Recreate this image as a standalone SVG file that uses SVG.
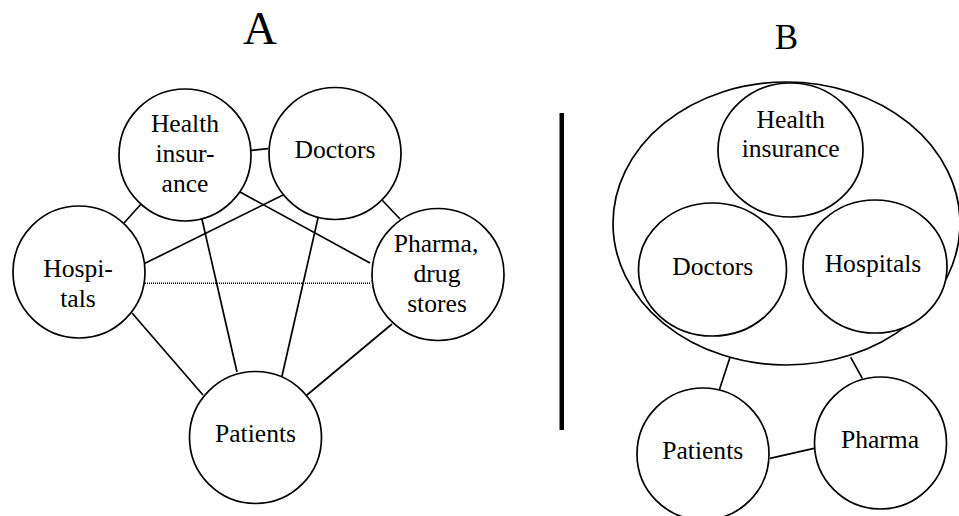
<svg xmlns="http://www.w3.org/2000/svg" width="959" height="516" viewBox="0 0 959 516">
<style>
.n{fill:#fff;stroke:#000;stroke-width:1.7}
.c line{stroke:#000;stroke-width:1.7}
text{font-family:'Liberation Serif','DejaVu Serif','Times New Roman',Times,serif;font-size:25.6px;fill:#000;text-anchor:middle}
</style>
<rect width="959" height="516" fill="#fff"/>
<text x="260" y="44" style="font-size:47px">A</text>
<text x="786.5" y="49" style="font-size:35px">B</text>
<rect x="559.5" y="113" width="4.5" height="317" fill="#000"/>
<g id="connectors" class="c">
<line x1="249" y1="150.7" x2="268" y2="148.7"/>
<line x1="142" y1="203" x2="124" y2="223"/>
<line x1="283" y1="195" x2="145" y2="263.3"/>
<line x1="240" y1="192" x2="370" y2="263"/>
<line x1="382" y1="200" x2="400" y2="219"/>
<line x1="201.7" y1="218" x2="237" y2="372"/>
<line x1="318" y1="218" x2="282" y2="376"/>
<line x1="132" y1="313" x2="203" y2="395"/>
<line x1="392" y1="324" x2="307" y2="395"/>
<line x1="145" y1="283.3" x2="371" y2="283.3" style="stroke-width:1.5;stroke-dasharray:1 1"/>
<line x1="730" y1="357.3" x2="719.3" y2="390"/>
<line x1="850.7" y1="357.3" x2="862.3" y2="378.3"/>
<line x1="770" y1="458.3" x2="814" y2="448.3"/>
</g>
<g id="a-health">
<circle class="n" cx="185" cy="155" r="66"/>
<text x="185" y="132">Health</text>
<text x="185" y="162">insur-</text>
<text x="185" y="192">ance</text>
</g>
<g id="a-doctors">
<circle class="n" cx="335" cy="153.5" r="66"/>
<text x="335" y="158">Doctors</text>
</g>
<g id="a-hospitals">
<circle class="n" cx="79" cy="272" r="66"/>
<text x="78" y="276.7">Hospi-</text>
<text x="78" y="306.7">tals</text>
</g>
<g id="a-pharma">
<circle class="n" cx="438" cy="274.5" r="66"/>
<text x="436" y="251.7">Pharma,</text>
<text x="437" y="281.7">drug</text>
<text x="437" y="311.7">stores</text>
</g>
<g id="a-patients">
<circle class="n" cx="255.5" cy="437.5" r="66"/>
<text x="255.5" y="441.7">Patients</text>
</g>
<g id="b-group">
<ellipse class="n" cx="786.5" cy="223.5" rx="173.5" ry="141.5"/>
</g>
<g id="b-health">
<ellipse class="n" cx="790.5" cy="150" rx="72.5" ry="67"/>
<text x="790.7" y="128">Health</text>
<text x="790.7" y="157">insurance</text>
</g>
<g id="b-doctors">
<ellipse class="n" cx="712.5" cy="269.5" rx="74" ry="66.5"/>
<text x="712.7" y="275">Doctors</text>
</g>
<g id="b-hospitals">
<ellipse class="n" cx="875" cy="266.5" rx="72" ry="66.5"/>
<text x="873" y="271.7">Hospitals</text>
</g>
<g id="b-patients">
<circle class="n" cx="703" cy="454" r="66"/>
<text x="702.7" y="459.3">Patients</text>
</g>
<g id="b-pharma">
<circle class="n" cx="880.5" cy="443" r="66"/>
<text x="880" y="448.3">Pharma</text>
</g>
</svg>
